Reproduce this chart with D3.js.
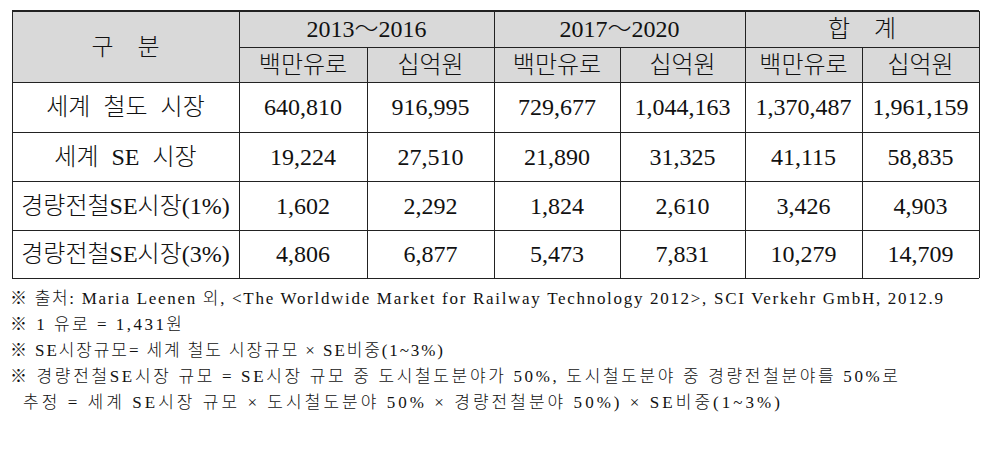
<!DOCTYPE html>
<html lang="ko">
<head>
<meta charset="UTF-8">
<title>경량전철 SE 시장</title>
<style>
  body { margin: 0; background: #fff; }
  text { font-family: "Liberation Serif", "Noto Sans CJK KR", serif; fill: #111; font-weight: 300; }
</style>
</head>
<body>
<script src="https://d3js.org/d3.v7.min.js"></script>
<script>
// data
const periods = ["2013～2016", "2017～2020", "합　계"];
const units = ["백만유로", "십억원"];
const categories = ["세계 철도 시장", "세계 SE 시장", "경량전철SE시장(1%)", "경량전철SE시장(3%)"];
const eur2013 = [640810, 19224, 1602, 4806];
const krw2013 = [916995, 27510, 2292, 6877];
const eur2017 = [729677, 21890, 1824, 5473];
const krw2017 = [1044163, 31325, 2610, 7831];
const eurTotal = [1370487, 41115, 3426, 10279];
const krwTotal = [1961159, 58835, 4903, 14709];
const notes = [
  "※ 출처: Maria Leenen 외, <The Worldwide Market for Railway Technology 2012>, SCI Verkehr GmbH, 2012.9",
  "※ 1 유로 = 1,431원",
  "※ SE시장규모= 세계 철도 시장규모 × SE비중(1~3%)",
  "※ 경량전철SE시장 규모 = SE시장 규모 중 도시철도분야가 50%, 도시철도분야 중 경량전철분야를 50%로",
  "추정 = 세계 SE시장 규모 × 도시철도분야 50% × 경량전철분야 50%) × SE비중(1~3%)"
];

// layout
const W = 990, H = 450;
const colEdges = [12, 239, 367, 494, 620, 745, 862, 979];
const rowEdges = [11, 47, 82, 132, 181, 230, 278];
const noteX = [10, 10, 10, 10, 23];
const noteEnd = [943, 182, 443, 898, 780];

const x = d3.scaleLinear().domain(d3.range(colEdges.length)).range(colEdges);
const y = d3.scaleLinear().domain(d3.range(rowEdges.length)).range(rowEdges);
const noteY = d3.scaleLinear().domain([0, notes.length - 1]).range([298, 402]);
const fmt = d3.format(",");

const svg = d3.select("body").append("svg")
  .attr("width", W).attr("height", H);

// header background
svg.append("rect")
  .attr("x", x(0)).attr("y", y(0))
  .attr("width", x(7) - x(0)).attr("height", y(2) - y(0))
  .attr("fill", "#d9d9d9");

// cells text
const cellFont = 24;
function cellText(c0, c1, r0, r1, txt) {
  return svg.append("text")
    .attr("x", (x(c0) + x(c1)) / 2)
    .attr("y", (y(r0) + y(r1)) / 2)
    .attr("dy", "0.35em")
    .attr("text-anchor", "middle")
    .attr("font-size", cellFont)
    .text(txt);
}

cellText(0, 1, 0, 2, "구　분");
periods.forEach((p, i) => {
  cellText(1 + i * 2, 3 + i * 2, 0, 1, p);
  units.forEach((u, j) => cellText(1 + i * 2 + j, 2 + i * 2 + j, 1, 2, u));
});

const columns = [eur2013, krw2013, eur2017, krw2017, eurTotal, krwTotal];
categories.forEach((c, r) => {
  cellText(0, 1, 2 + r, 3 + r, c).attr("word-spacing", 7);
  columns.forEach((col, k) => cellText(1 + k, 2 + k, 2 + r, 3 + r, fmt(col[r])));
});

// grid lines
const line = svg.append("g").attr("stroke", "#222").attr("stroke-width", 1).attr("shape-rendering", "crispEdges");
// horizontals
[0, 2, 3, 4, 5, 6].forEach(r => {
  line.append("line")
    .attr("x1", x(0)).attr("x2", x(7))
    .attr("y1", y(r)).attr("y2", y(r))
    .attr("stroke-width", r === 0 ? 2 : 1);
});
line.append("line")
  .attr("x1", x(1)).attr("x2", x(7))
  .attr("y1", y(1)).attr("y2", y(1));
// verticals
[0, 1, 3, 5, 7].forEach(c => {
  line.append("line")
    .attr("x1", x(c)).attr("x2", x(c))
    .attr("y1", y(0)).attr("y2", y(6));
});
[2, 4, 6].forEach(c => {
  line.append("line")
    .attr("x1", x(c)).attr("x2", x(c))
    .attr("y1", y(1)).attr("y2", y(6));
});

// footnotes
notes.forEach((n, i) => {
  svg.append("text")
    .attr("x", noteX[i])
    .attr("y", noteY(i))
    .attr("dy", "0.35em")
    .attr("font-size", 17)
    .attr("textLength", noteEnd[i] - noteX[i])
    .attr("lengthAdjust", "spacing")
    .text(n);
});
</script>
</body>
</html>
